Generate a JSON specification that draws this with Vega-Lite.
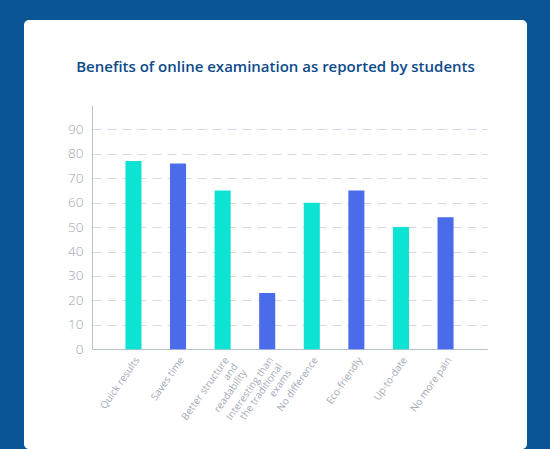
{
  "$schema": "https://vega.github.io/schema/vega-lite/v6.json",
  "autosize": "none",
  "width": 503,
  "height": 429,
  "padding": {"left": 24, "top": 20, "right": 23, "bottom": 0},
  "background": "#0b5596",
  "title": {
    "text": "Benefits of online examination as reported by students",
    "font": "Open Sans",
    "fontSize": 15,
    "fontWeight": 600,
    "color": "#0c4a8a",
    "anchor": "middle",
    "frame": "group",
    "baseline": "alphabetic",
    "offset": -67
  },
  "data": {
    "values": [
      {"benefit": "Quick results", "percent": 77},
      {"benefit": "Saves time", "percent": 76},
      {"benefit": "Better structure and readability", "percent": 65},
      {"benefit": "Interesting than the traditional exams", "percent": 23},
      {"benefit": "No difference", "percent": 60},
      {"benefit": "Eco-friendly", "percent": 65},
      {"benefit": "Up-to-date", "percent": 50},
      {"benefit": "No more pain", "percent": 54}
    ]
  },
  "mark": {"type": "bar"},
  "encoding": {
    "x": {
      "field": "benefit",
      "type": "nominal",
      "sort": null,
      "title": null,
      "scale": {"range": [68, 463], "paddingInner": 0.64, "paddingOuter": 0.75},
      "axis": {
        "offset": -100,
        "labelAngle": -55,
        "labelAlign": "right",
        "labelBaseline": "top",
        "labelFont": "Open Sans",
        "labelFontSize": 10,
        "labelColor": "#a3abb7",
        "labelPadding": 6,
        "labelLineHeight": 11,
        "labelExpr": "datum.label == 'Better structure and readability' ? ['Better structure', 'and', 'readability'] : datum.label == 'Interesting than the traditional exams' ? ['Interesting than', 'the traditional', 'exams'] : datum.label",
        "ticks": false,
        "domainColor": "#b9c3d0",
        "grid": false
      }
    },
    "y": {
      "field": "percent",
      "type": "quantitative",
      "title": null,
      "scale": {"domain": [0, 100], "range": [329.3, 84.9]},
      "axis": {
        "offset": -68,
        "values": [0, 10, 20, 30, 40, 50, 60, 70, 80, 90],
        "labelFont": "Open Sans",
        "labelFontSize": 13.5,
        "labelFontWeight": 300,
        "labelColor": "#9aa4b1",
        "labelPadding": 9,
        "ticks": false,
        "domainColor": "#b9c3d0",
        "grid": true,
        "gridColor": "#d3dae5",
        "gridDash": [9, 6]
      }
    },
    "color": {
      "field": "benefit",
      "type": "nominal",
      "sort": null,
      "legend": null,
      "scale": {
        "domain": ["Quick results", "Saves time", "Better structure and readability", "Interesting than the traditional exams", "No difference", "Eco-friendly", "Up-to-date", "No more pain"],
        "range": ["#0de3d2", "#4a6cea", "#0de3d2", "#4a6cea", "#0de3d2", "#4a6cea", "#0de3d2", "#4a6cea"]
      }
    }
  },
  "config": {
    "view": {"fill": "white", "stroke": null, "cornerRadius": 5}
  }
}
